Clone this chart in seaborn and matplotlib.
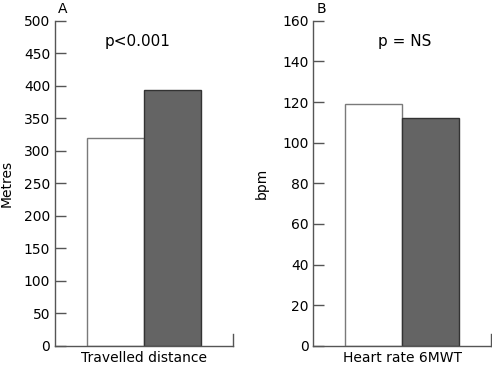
import pandas as pd
import seaborn as sns
import matplotlib
matplotlib.use('Agg')
import matplotlib.pyplot as plt

# values
groups = ['Group 1', 'Group 2']
distance = [320, 393]
heart_rate = [119, 112]
panels = ['A', 'B']
cats = ['Travelled distance', 'Heart rate 6MWT']
ylabels = ['Metres', 'bpm']
ptexts = ['p<0.001', 'p = NS']
ymax = [500, 160]
ystep = [50, 20]

fills = ['#ffffff', '#646464']
edges = ['#7a7a7a', '#333333']

sns.set_style('white')
plt.rcParams['font.family'] = ['DejaVu Sans']
plt.rcParams['font.size'] = 10
plt.rcParams['text.color'] = 'black'
plt.rcParams['axes.labelcolor'] = 'black'
plt.rcParams['xtick.labelcolor'] = 'black'
plt.rcParams['ytick.labelcolor'] = 'black'

fig, axes = plt.subplots(1, 2, figsize=(4.92, 3.66), dpi=100)
fig.subplots_adjust(left=0.112, right=0.998, bottom=0.055, top=0.943, wspace=0.455)

vals = [distance, heart_rate]
for i, ax in enumerate(axes):
    df = pd.DataFrame({'cat': [cats[i]] * 2, 'group': groups, 'value': vals[i]})
    sns.barplot(data=df, x='cat', y='value', hue='group', palette=fills,
                width=0.8, ax=ax, legend=False, linewidth=1.0)
    for j, patch in enumerate(ax.patches):
        patch.set_edgecolor(edges[j % 2])
    ax.set_xlim(-0.625, 0.625)
    ax.set_ylim(0, ymax[i])
    ax.set_yticks(range(0, ymax[i] + 1, ystep[i]))
    ax.set_xlabel('')
    ax.set_ylabel(ylabels[i], fontsize=10)
    ax.yaxis.set_label_coords(-0.236 if i == 0 else -0.253, 0.5)
    ax.spines['top'].set_visible(False)
    for s in ['left', 'bottom', 'right']:
        ax.spines[s].set_color('#555555')
        ax.spines[s].set_linewidth(1.0)
    ax.spines['right'].set_bounds(0, ymax[i] * 0.035)
    ax.tick_params(axis='y', direction='in', length=8, width=1.0, color='#555555',
                   pad=3.5, labelsize=10, left=True)
    ax.tick_params(axis='x', length=0, pad=4, labelsize=10)
    ax.text(0.017, 1.025, panels[i], transform=ax.transAxes, fontsize=10, va='baseline')
    ax.text(0.466 if i == 0 else 0.511, 0.923, ptexts[i], transform=ax.transAxes,
            fontsize=11, ha='center', va='baseline')

plt.savefig('out.png', dpi=100)
